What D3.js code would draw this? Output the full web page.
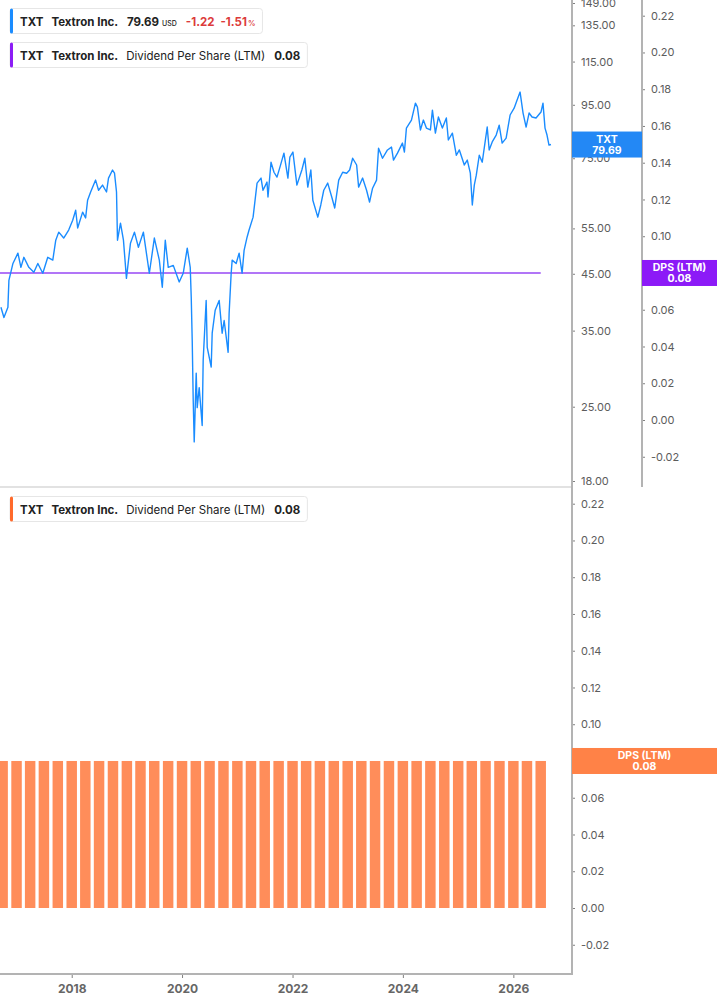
<!DOCTYPE html>
<html>
<head>
<meta charset="utf-8">
<script src="https://cdn.jsdelivr.net/npm/d3@7"></script>
<style>
  body { margin: 0; background: #fff; }
  svg { display: block; font-family: Inter, "Noto Sans", sans-serif; }
</style>
</head>
<body>
<svg id="chart"></svg>
<script>
// price series, dates as decimal years
var priceYears = [2016.718, 2016.772, 2016.844, 2016.862, 2016.935, 2017.025, 2017.079, 2017.133, 2017.223, 2017.314,
  2017.386, 2017.476, 2017.566, 2017.657, 2017.711, 2017.765, 2017.855, 2017.945, 2018.018, 2018.072,
  2018.108, 2018.198, 2018.252, 2018.288, 2018.343, 2018.433, 2018.487, 2018.559, 2018.631, 2018.667,
  2018.740, 2018.776, 2018.812, 2018.830, 2018.884, 2018.938, 2018.992, 2019.065, 2019.137, 2019.209,
  2019.299, 2019.407, 2019.498, 2019.588, 2019.642, 2019.696, 2019.750, 2019.841, 2019.949, 2020.021,
  2020.094, 2020.148, 2020.166, 2020.184, 2020.202, 2020.220, 2020.256, 2020.274, 2020.310, 2020.364,
  2020.382, 2020.436, 2020.455, 2020.527, 2020.545, 2020.599, 2020.671, 2020.725, 2020.761, 2020.833,
  2020.851, 2020.888, 2020.906, 2020.978, 2021.032, 2021.086, 2021.122, 2021.176, 2021.212, 2021.285,
  2021.321, 2021.357, 2021.429, 2021.465, 2021.537, 2021.555, 2021.610, 2021.664, 2021.718, 2021.772,
  2021.844, 2021.916, 2021.952, 2022.007, 2022.079, 2022.169, 2022.223, 2022.277, 2022.332, 2022.368,
  2022.458, 2022.512, 2022.566, 2022.638, 2022.711, 2022.765, 2022.837, 2022.909, 2022.981, 2023.035,
  2023.090, 2023.162, 2023.198, 2023.270, 2023.342, 2023.396, 2023.451, 2023.523, 2023.559, 2023.631,
  2023.721, 2023.794, 2023.830, 2023.902, 2023.992, 2024.028, 2024.064, 2024.155, 2024.227, 2024.263,
  2024.317, 2024.371, 2024.425, 2024.498, 2024.534, 2024.588, 2024.642, 2024.714, 2024.786, 2024.822,
  2024.895, 2024.967, 2025.021, 2025.111, 2025.165, 2025.220, 2025.256, 2025.292, 2025.328, 2025.382,
  2025.436, 2025.526, 2025.562, 2025.617, 2025.689, 2025.743, 2025.797, 2025.869, 2025.941, 2026.014,
  2026.068, 2026.122, 2026.176, 2026.231, 2026.285, 2026.339, 2026.411, 2026.501, 2026.537, 2026.574,
  2026.610, 2026.646, 2026.682];

var priceValues = [38.8, 37.1, 38.8, 43.7, 47.1, 49.3, 46.3, 48.4, 46.3, 45.3,
  47.1, 45.1, 48.4, 47.8, 52.2, 54.1, 52.7, 54.6, 57.0, 59.6,
  55.1, 59.1, 57.6, 62.3, 64.6, 68.1, 65.1, 66.6, 64.6, 68.7,
  71.2, 70.2, 64.6, 52.2, 56.3, 52.2, 44.1, 51.5, 54.1, 50.6,
  54.1, 45.1, 52.7, 47.8, 42.4, 52.2, 46.3, 46.7, 43.4, 45.1,
  50.4, 46.3, 40.6, 33.5, 25.7, 21.4, 29.0, 24.9, 27.2, 23.0,
  30.7, 40.0, 32.5, 29.8, 34.6, 38.3, 40.0, 34.6, 36.6, 31.8,
  37.8, 45.1, 47.8, 47.1, 49.3, 45.1, 49.9, 52.9, 54.6, 57.8,
  62.3, 67.2, 68.7, 65.1, 67.5, 63.2, 73.7, 70.5, 69.0, 72.1,
  76.7, 68.7, 75.4, 77.1, 66.6, 71.2, 75.0, 66.0, 71.2, 62.3,
  57.8, 61.0, 65.1, 67.2, 63.2, 60.2, 68.1, 70.5, 70.2, 71.2,
  75.0, 72.8, 66.0, 68.7, 65.1, 61.8, 65.7, 68.1, 78.4, 75.0,
  77.8, 78.8, 74.4, 76.7, 80.2, 77.1, 85.7, 88.8, 95.7, 94.0,
  85.0, 88.8, 85.7, 85.0, 92.8, 83.8, 90.0, 85.7, 89.6, 81.3,
  83.8, 76.0, 77.8, 72.8, 74.4, 70.2, 61.0, 66.6, 69.6, 76.0,
  73.7, 86.1, 77.8, 80.6, 83.1, 86.8, 80.2, 82.0, 90.8, 93.6,
  97.0, 100.5, 91.6, 86.1, 91.6, 90.0, 89.6, 92.0, 95.7, 85.7,
  83.1, 79.5, 79.69];

// quarterly dividend per share (LTM)
var dpsDates = ["2016-10-01",
  "2017-01-01", "2017-04-01", "2017-07-01", "2017-10-01",
  "2018-01-01", "2018-04-01", "2018-07-01", "2018-10-01",
  "2019-01-01", "2019-04-01", "2019-07-01", "2019-10-01",
  "2020-01-01", "2020-04-01", "2020-07-01", "2020-10-01",
  "2021-01-01", "2021-04-01", "2021-07-01", "2021-10-01",
  "2022-01-01", "2022-04-01", "2022-07-01", "2022-10-01",
  "2023-01-01", "2023-04-01", "2023-07-01", "2023-10-01",
  "2024-01-01", "2024-04-01", "2024-07-01", "2024-10-01",
  "2025-01-01", "2025-04-01", "2025-07-01", "2025-10-01",
  "2026-01-01", "2026-04-01", "2026-07-01"];
var dpsValues = [0.08,
  0.08, 0.08, 0.08, 0.08,
  0.08, 0.08, 0.08, 0.08,
  0.08, 0.08, 0.08, 0.08,
  0.08, 0.08, 0.08, 0.08,
  0.08, 0.08, 0.08, 0.08,
  0.08, 0.08, 0.08, 0.08,
  0.08, 0.08, 0.08, 0.08,
  0.08, 0.08, 0.08, 0.08,
  0.08, 0.08, 0.08, 0.08,
  0.08, 0.08, 0.08];

var xTickYears = [2018, 2020, 2022, 2024, 2026];
var priceTicks = [18, 25, 35, 45, 55, 75, 95, 115, 135, 149];
var dpsTicks = [-0.02, 0, 0.02, 0.04, 0.06, 0.08, 0.10, 0.12, 0.14, 0.16, 0.18, 0.20, 0.22];

var lastPrice = 79.69, priceChange = -1.22, priceChangePct = -1.51, lastDps = 0.08;

var BLUE = "#1a8cff", PURPLE = "#8c1df5", ORANGE = "#ff8d5a", RED = "#dc3b3b";
var AXIS = "#b3b3b3", LABEL = "#5c5c5c";

// plain hyphen for negative numbers, like the source
var fmt2 = d3.formatLocale({ decimal: ".", thousands: ",", grouping: [3], currency: ["$", ""], minus: "-" }).format(".2f");

function yearToDate(y) {
  var yr = Math.floor(y);
  var a = new Date(yr, 0, 1), b = new Date(yr + 1, 0, 1);
  return new Date(+a + (y - yr) * (b - a));
}

var parseDay = d3.timeParse("%Y-%m-%d");
var price = d3.zip(priceYears, priceValues).map(function(d) { return { date: yearToDate(d[0]), v: d[1] }; });
var dps = d3.zip(dpsDates, dpsValues).map(function(d) { return { date: parseDay(d[0]), v: d[1] }; });

var width = 717, height = 1005;
var plotRight = 572;
var svg = d3.select("#chart").attr("width", width).attr("height", height);

var x = d3.scaleTime()
  .domain([yearToDate(2016.701), yearToDate(2027.063)])
  .range([0, plotRight]);
var yPrice = d3.scaleLog().domain([18, 149]).range([481, 3]);
var yDpsTop = d3.scaleLinear().domain([0, 0.22]).range([420, 15.7]);
var yDpsBot = d3.scaleLinear().domain([0, 0.22]).range([908, 503.7]);

svg.append("clipPath").attr("id", "clipTop")
  .append("rect").attr("x", 0).attr("y", 0).attr("width", plotRight).attr("height", 487);
svg.append("clipPath").attr("id", "clipBot")
  .append("rect").attr("x", 0).attr("y", 490).attr("width", plotRight).attr("height", 483);

// ---- top panel ----
var topPanel = svg.append("g").attr("clip-path", "url(#clipTop)");

var dpsLineData = [{ date: x.domain()[0], v: dps[0].v }].concat(dps);
topPanel.append("path")
  .datum(dpsLineData)
  .attr("fill", "none")
  .attr("stroke", "#9747f5")
  .attr("stroke-width", 1.5)
  .attr("d", d3.line().curve(d3.curveStepAfter)
    .x(function(d) { return x(d.date); })
    .y(function(d) { return yDpsTop(d.v); }));

topPanel.append("path")
  .datum(price)
  .attr("fill", "none")
  .attr("stroke", BLUE)
  .attr("stroke-width", 1.4)
  .attr("stroke-linejoin", "round")
  .attr("d", d3.line()
    .x(function(d) { return x(d.date); })
    .y(function(d) { return yPrice(d.v); }));

// separator between panels
svg.append("line")
  .attr("x1", 0).attr("x2", plotRight).attr("y1", 487).attr("y2", 487)
  .attr("stroke", "#e2e2e2").attr("stroke-width", 2);

// ---- bottom panel ----
var botPanel = svg.append("g").attr("clip-path", "url(#clipBot)");
var quarterPx = x(parseDay("2021-04-01")) - x(parseDay("2021-01-01"));
var barW = quarterPx * 0.77;

botPanel.selectAll("rect.bar")
  .data(dps)
  .enter().append("rect")
  .attr("class", "bar")
  .attr("x", function(d) { return x(d.date) - barW / 2; })
  .attr("width", barW)
  .attr("y", function(d) { return yDpsBot(d.v); })
  .attr("height", function(d) { return yDpsBot(0) - yDpsBot(d.v); })
  .attr("fill", ORANGE);

// ---- axes ----
function styleAxis(g, size, weight, color) {
  g.select(".domain").remove();
  g.selectAll(".tick line").attr("stroke", "#808080");
  g.selectAll(".tick text")
    .attr("fill", color || LABEL)
    .style("font-size", size + "px")
    .style("font-weight", weight || 400)
    .style("font-family", "Inter, 'Noto Sans', sans-serif");
}

svg.append("g")
  .attr("transform", "translate(" + plotRight + ",0)")
  .call(d3.axisRight(yPrice).tickValues(priceTicks).tickFormat(fmt2).tickSize(3).tickPadding(6))
  .call(styleAxis, 11);

svg.append("g")
  .attr("transform", "translate(642,0)")
  .call(d3.axisRight(yDpsTop).tickValues(dpsTicks).tickFormat(fmt2).tickSize(3).tickPadding(6))
  .call(styleAxis, 11);

svg.append("g")
  .attr("transform", "translate(" + plotRight + ",0)")
  .call(d3.axisRight(yDpsBot).tickValues(dpsTicks).tickFormat(fmt2).tickSize(3).tickPadding(6))
  .call(styleAxis, 11);

svg.append("g")
  .attr("transform", "translate(0,974)")
  .call(d3.axisBottom(x)
    .tickValues(xTickYears.map(function(y) { return new Date(y, 0, 1); }))
    .tickFormat(d3.timeFormat("%Y")).tickSize(4).tickPadding(6.5))
  .call(styleAxis, 12, 700, "#666");

// axis lines
svg.append("line").attr("x1", plotRight).attr("x2", plotRight).attr("y1", 0).attr("y2", 975)
  .attr("stroke", AXIS).attr("stroke-width", 2);
svg.append("line").attr("x1", 642).attr("x2", 642).attr("y1", 0).attr("y2", 487)
  .attr("stroke", AXIS).attr("stroke-width", 2);
svg.append("line").attr("x1", 0).attr("x2", plotRight + 1).attr("y1", 974).attr("y2", 974)
  .attr("stroke", AXIS).attr("stroke-width", 2);

// ---- value tags on axes ----
function tag(x0, x1, cy, color, line1, line2) {
  var g = svg.append("g");
  g.append("rect").attr("x", x0).attr("y", cy - 13).attr("width", x1 - x0).attr("height", 26).attr("fill", color);
  var cx = (x0 + x1) / 2;
  g.append("text").attr("x", cx).attr("y", cy - 1.5).attr("text-anchor", "middle")
    .attr("fill", "#fff").style("font-size", "10.5px").style("font-weight", 700).text(line1);
  g.append("text").attr("x", cx).attr("y", cy + 9.5).attr("text-anchor", "middle")
    .attr("fill", "#fff").style("font-size", "10.5px").style("font-weight", 700).text(line2);
}
tag(plotRight, 642, yPrice(lastPrice), "#2388f5", "TXT", fmt2(lastPrice));
tag(642, width, yDpsTop(lastDps), "#8c1af7", "DPS (LTM)", fmt2(lastDps));
tag(plotRight, width, yDpsBot(lastDps), "#ff8247", "DPS (LTM)", fmt2(lastDps));

// ---- legends ----
function legend(y0, color, parts) {
  var g = svg.append("g");
  var box = g.append("rect").attr("x", 10).attr("y", y0).attr("height", 25).attr("rx", 3)
    .attr("fill", "#fff").attr("stroke", "#e6e6e6").attr("stroke-width", 1);
  var t = g.append("text").attr("x", 20).attr("y", y0 + 17).attr("fill", "#222");
  parts.forEach(function(p) {
    t.append("tspan")
      .attr("dx", p.dx || 0)
      .attr("fill", p.fill || "#222")
      .style("font-size", (p.size || 11.5) + "px")
      .style("font-weight", p.weight || 700)
      .text(p.text);
  });
  var bb = t.node().getBBox();
  box.attr("width", bb.x + bb.width - 10 + 7);
  g.append("rect").attr("x", 10).attr("y", y0).attr("width", 3).attr("height", 25).attr("rx", 1.5).attr("fill", color);
}

legend(8.5, BLUE, [
  { text: "TXT" },
  { text: "Textron Inc.", dx: 8 },
  { text: fmt2(lastPrice), dx: 9 },
  { text: "USD", size: 7, weight: 500, dx: 3 },
  { text: fmt2(priceChange), fill: RED, dx: 9 },
  { text: fmt2(priceChangePct), fill: RED, dx: 6 },
  { text: "%", size: 7.5, weight: 600, fill: RED, dx: 1 }
]);

legend(42.5, PURPLE, [
  { text: "TXT" },
  { text: "Textron Inc.", dx: 8 },
  { text: "Dividend Per Share (LTM)", weight: 400, dx: 8 },
  { text: fmt2(lastDps), dx: 9 }
]);

legend(496.5, "#ff6a2b", [
  { text: "TXT" },
  { text: "Textron Inc.", dx: 8 },
  { text: "Dividend Per Share (LTM)", weight: 400, dx: 8 },
  { text: fmt2(lastDps), dx: 9 }
]);
</script>
</body>
</html>
